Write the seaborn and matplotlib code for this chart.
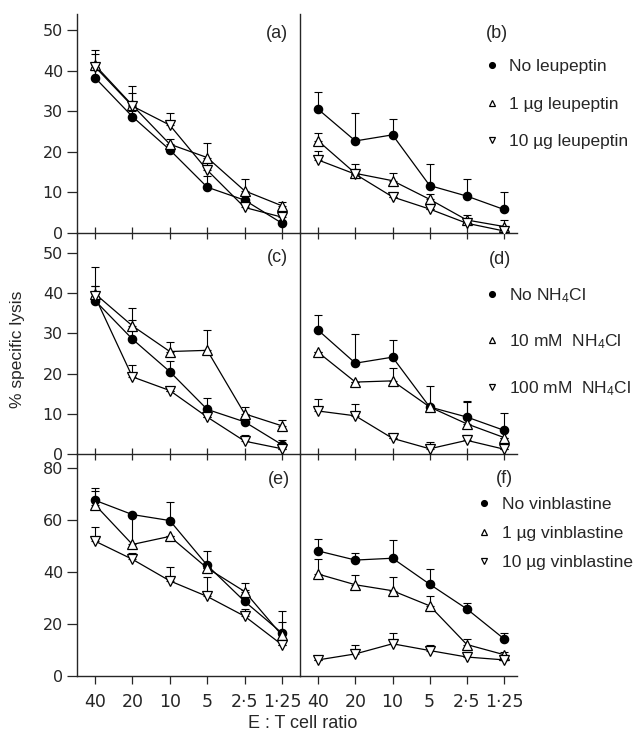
import matplotlib
matplotlib.use("Agg")
import matplotlib.pyplot as plt
import numpy as np
import seaborn as sns

sns.set_style("ticks")
plt.rcParams['font.family'] = ['Liberation Sans', 'DejaVu Sans']
plt.rcParams['mathtext.fontset'] = 'custom'
plt.rcParams['mathtext.rm'] = 'Liberation Sans'
plt.rcParams['mathtext.it'] = 'Liberation Sans'

# E:T ratios (categories)
ratios = ["40", "20", "10", "5", "2·5", "1·25"]

# (a) leupeptin, first target
a_none = [38.3, 28.7, 20.5, 11.3, 8.1, 2.4]
a_none_err = [2.0, 1.5, 1.0, 2.8, 1.5, 0.5]
a_1ug = [41.4, 31.5, 21.9, 18.6, 10.4, 6.7]
a_1ug_err = [2.8, 4.8, 1.2, 3.5, 3.0, 1.0]
a_10ug = [41.0, 31.3, 26.6, 15.5, 6.3, 3.9]
a_10ug_err = [4.2, 3.3, 3.0, 2.0, 1.5, 0.8]

# (b) leupeptin, second target
b_none = [30.5, 22.7, 24.2, 11.7, 9.1, 5.8]
b_none_err = [4.3, 7.0, 4.0, 5.3, 4.2, 4.2]
b_1ug = [22.7, 14.7, 12.9, 8.3, 3.2, 1.6]
b_1ug_err = [2.0, 2.3, 2.0, 1.2, 1.2, 1.6]
b_10ug = [18.0, 14.5, 8.9, 5.9, 2.4, 0.5]
b_10ug_err = [2.3, 0.0, 0.0, 0.0, 0.0, 0.0]

# (c) NH4Cl, first target
c_none = [38.2, 28.6, 20.5, 11.1, 8.0, 2.3]
c_none_err = [3.6, 4.8, 2.6, 2.9, 1.5, 1.3]
c_10mm = [39.9, 31.9, 25.5, 25.8, 10.0, 7.0]
c_10mm_err = [6.6, 4.5, 2.4, 5.1, 1.7, 1.5]
c_100mm = [39.2, 19.2, 15.8, 9.2, 3.2, 1.3]
c_100mm_err = [2.6, 2.9, 0.0, 0.0, 1.6, 0.0]

# (d) NH4Cl, second target
d_none = [30.8, 22.6, 24.1, 11.7, 9.2, 5.9]
d_none_err = [3.9, 7.2, 4.2, 5.3, 4.1, 4.2]
d_10mm = [25.3, 17.9, 18.2, 11.7, 7.5, 4.1]
d_10mm_err = [0.0, 0.0, 3.3, 0.0, 5.4, 0.0]
d_100mm = [10.7, 9.5, 3.9, 1.3, 3.4, 1.2]
d_100mm_err = [3.1, 2.9, 0.0, 1.6, 1.3, 0.0]

# (e) vinblastine, first target
e_none = [67.6, 62.1, 59.8, 42.6, 28.7, 16.5]
e_none_err = [4.7, 0.0, 7.2, 5.5, 4.3, 8.4]
e_1ug = [65.9, 50.6, 53.7, 41.5, 32.5, 15.6]
e_1ug_err = [5.1, 11.5, 0.0, 0.0, 3.1, 5.1]
e_10ug = [51.9, 44.9, 36.6, 30.6, 23.0, 12.0]
e_10ug_err = [5.4, 2.5, 5.4, 7.5, 2.8, 0.0]

# (f) vinblastine, second target
f_none = [48.1, 44.6, 45.3, 35.3, 25.8, 14.3]
f_none_err = [4.7, 2.8, 7.0, 5.9, 2.1, 2.2]
f_1ug = [39.2, 35.1, 32.8, 27.0, 12.1, 8.2]
f_1ug_err = [6.0, 3.8, 5.1, 3.6, 2.2, 1.0]
f_10ug = [6.2, 8.5, 12.4, 9.8, 7.3, 6.2]
f_10ug_err = [0.0, 3.6, 4.2, 2.3, 1.9, 0.0]

leup_labels = ["No leupeptin", "1 µg leupeptin", "10 µg leupeptin"]
nh4_labels = ["No NH$_4$Cl", "10 mM  NH$_4$Cl", "100 mM  NH$_4$Cl"]
vin_labels = ["No vinblastine", "1 µg vinblastine", "10 µg vinblastine"]

styles = [("o", "black", 6.0), ("^", "white", 6.5), ("v", "white", 6.5)]

panels = [
    ("(a)", [(a_none, a_none_err), (a_1ug, a_1ug_err), (a_10ug, a_10ug_err)], None),
    ("(b)", [(b_none, b_none_err), (b_1ug, b_1ug_err), (b_10ug, b_10ug_err)], leup_labels),
    ("(c)", [(c_none, c_none_err), (c_10mm, c_10mm_err), (c_100mm, c_100mm_err)], None),
    ("(d)", [(d_none, d_none_err), (d_10mm, d_10mm_err), (d_100mm, d_100mm_err)], nh4_labels),
    ("(e)", [(e_none, e_none_err), (e_1ug, e_1ug_err), (e_10ug, e_10ug_err)], None),
    ("(f)", [(f_none, f_none_err), (f_1ug, f_1ug_err), (f_10ug, f_10ug_err)], vin_labels),
]

W, H = 639, 734
fig = plt.figure(figsize=(W / 100, H / 100), dpi=100)

col_px = [(77, 300), (300, 517)]
row_px = [(14, 233), (233, 454), (454, 676)]
row_ylim = [54, 55, 85.4]
row_yticks = [[0, 10, 20, 30, 40, 50], [0, 10, 20, 30, 40, 50], [0, 20, 40, 60, 80]]
col_xlim = [(-0.48, 5.48), (-0.49, 5.35)]

label_pos = [(0.946, 0.913, "right"), (0.908, 0.913, "center"),
             (0.946, 0.891, "right"), (0.92, 0.882, "center"),
             (0.955, 0.883, "right"), (0.94, 0.89, "center")]
legend_anchor = [(0.843, 0.793), (0.843, 0.759), (0.81, 0.805)]
legend_spacing = [1.27, 1.59, 0.78]

for i, (tag, series, labels) in enumerate(panels):
    r, c = divmod(i, 2)
    x0, x1 = col_px[c]
    y0, y1 = row_px[r]
    ax = fig.add_axes([x0 / W, 1 - y1 / H, (x1 - x0) / W, (y1 - y0) / H])

    for k, (vals, err) in enumerate(series):
        marker, fc, ms = styles[k]
        ax.errorbar(ratios, vals, yerr=[np.zeros(len(err)), err], fmt="none",
                    ecolor="black", elinewidth=0.8, capsize=3, capthick=0.8, zorder=1)
        sns.lineplot(x=ratios, y=vals, ax=ax, sort=False, color="black",
                     linewidth=0.9, marker=marker, markersize=ms,
                     markerfacecolor=fc, markeredgecolor="black",
                     markeredgewidth=0.9, zorder=3,
                     label=labels[k] if labels else None)

    ax.set_xlim(*col_xlim[c])
    ax.set_ylim(0, row_ylim[r])
    ax.set_xlabel("")
    ax.set_ylabel("")
    for s in ["top", "right"]:
        ax.spines[s].set_visible(False)
    for s in ["left", "bottom"]:
        ax.spines[s].set_linewidth(1.0)
    ax.patch.set_alpha(0)

    if r < 2:
        ax.tick_params(axis="x", direction="inout", length=9, width=0.9,
                       labelbottom=False)
    else:
        ax.tick_params(axis="x", direction="out", length=6, width=0.9, pad=6,
                       labelsize=12.5)
        for t in ax.get_xticklabels():
            t.set_fontfamily("DejaVu Sans")

    if c == 0:
        ax.set_yticks(row_yticks[r])
        ax.tick_params(axis="y", direction="out", length=7, width=0.9,
                       labelsize=11.5, pad=3)
        for t in ax.get_yticklabels():
            t.set_fontfamily("DejaVu Sans")
    else:
        ax.tick_params(axis="y", left=False, labelleft=False)

    lx, ly, ha = label_pos[i]
    ax.text(lx, ly, tag, transform=ax.transAxes, ha=ha, va="center", fontsize=13)

    if labels:
        handles, labs = ax.get_legend_handles_labels()
        leg = ax.legend(handles, labs, loc="upper left",
                        bbox_to_anchor=legend_anchor[r], frameon=False,
                        borderpad=0, borderaxespad=0, handlelength=1.0,
                        handletextpad=0.5, markerscale=0.7, fontsize=12.5,
                        labelspacing=legend_spacing[r])
        for h in leg.legend_handles:
            h.set_linestyle("none")
    elif ax.get_legend():
        ax.get_legend().remove()

fig.text(18 / W, 1 - 349 / H, "% specific lysis", rotation=90, ha="center",
         va="center", fontsize=12.5)
fig.text(303 / W, 1 - 723 / H, "E : T cell ratio", ha="center", va="center",
         fontsize=13)

fig.savefig("out.png", dpi=100)
